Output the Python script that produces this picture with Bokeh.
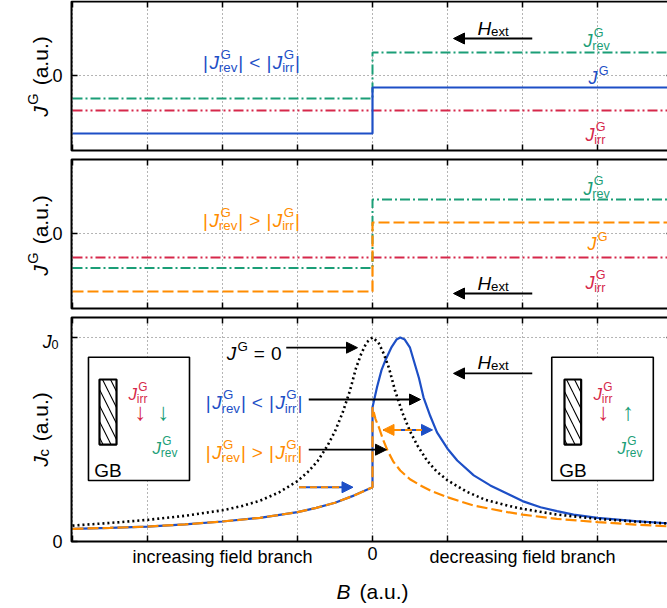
from math import pi
from bokeh.plotting import figure
from bokeh.layouts import column
from bokeh.models import ColumnDataSource, Range1d, Label, Arrow, NormalHead, Grid
from bokeh.embed import file_html
from bokeh.resources import INLINE

# ---------------- data ----------------
B_TICKS = [-4, -3, -2, -1, 0, 1, 2, 3, 4]
B_TICK_LABELS = {-2: "increasing field branch", 0: "0", 2: "decreasing field branch"}
JG_TICKS = [0]
JC_TICKS = [0, 1]

# step functions of panels (a) and (b)
B_STEP = [-4.0, 0.0, 0.0, 4.2]
JIRR_A = [-1.40, -1.40, -1.40, -1.40]
JREV_A = [-0.92, -0.92, 0.92, 0.92]
JG_A = [-2.32, -2.32, -0.48, -0.48]
JIRR_B = [-0.96, -0.96, -0.96, -0.96]
JREV_B = [-1.38, -1.38, 1.36, 1.36]
JG_B = [-2.32, -2.32, 0.44, 0.44]

# panel (c): critical current density curves
B_ZERO = [-4.0, -3.5, -3.0, -2.5, -2.0, -1.75, -1.5, -1.25, -1.0, -0.85, -0.73, -0.6,
          -0.5, -0.4, -0.3, -0.22, -0.15, -0.08, 0.0, 0.08, 0.15, 0.22, 0.3, 0.4, 0.5,
          0.6, 0.73, 0.85, 1.0, 1.25, 1.5, 1.8, 2.0, 2.46, 3.0, 3.5, 3.95]
JC_ZERO = [0.078, 0.091, 0.106, 0.126, 0.153, 0.173, 0.2, 0.24, 0.296, 0.345, 0.395, 0.47,
           0.54, 0.63, 0.74, 0.85, 0.92, 0.975, 1.0, 0.975, 0.92, 0.85, 0.74, 0.63, 0.54,
           0.47, 0.395, 0.345, 0.3, 0.245, 0.205, 0.176, 0.16, 0.132, 0.111, 0.098, 0.088]

B_LT = [-4.0, -3.5, -3.0, -2.5, -2.0, -1.5, -1.0, -0.75, -0.5, -0.25, 0.0, 0.0, 0.06,
        0.12, 0.17, 0.25, 0.32, 0.37, 0.43, 0.5, 0.55, 0.62, 0.68, 0.77, 0.86, 1.0, 1.13,
        1.35, 1.57, 1.8, 2.0, 2.24, 2.46, 2.68, 3.0, 3.5, 3.95]
JC_LT = [0.062, 0.067, 0.073, 0.084, 0.098, 0.116, 0.144, 0.165, 0.19, 0.225, 0.266, 0.658,
         0.756, 0.84, 0.887, 0.95, 0.99, 1.0, 0.99, 0.95, 0.887, 0.8, 0.707, 0.615, 0.535,
         0.455, 0.397, 0.324, 0.275, 0.234, 0.198, 0.168, 0.149, 0.132, 0.116, 0.1, 0.089]

B_GT = [-4.0, -3.5, -3.0, -2.5, -2.0, -1.5, -1.0, -0.75, -0.5, -0.25, 0.0, 0.0, 0.04,
        0.085, 0.14, 0.2, 0.28, 0.37, 0.5, 0.64, 0.8, 1.0, 1.35, 1.8, 2.0, 2.46, 3.0,
        3.5, 3.95]
JC_GT = [0.062, 0.067, 0.073, 0.084, 0.098, 0.116, 0.144, 0.165, 0.19, 0.225, 0.266, 0.658,
         0.6, 0.56, 0.5, 0.446, 0.39, 0.348, 0.305, 0.275, 0.245, 0.217, 0.176, 0.144,
         0.132, 0.111, 0.095, 0.083, 0.074]

# ---------------- style ----------------
FONT = "Liberation Sans"
BLUE = "#1d4fc6"
GREEN = "#1b9e77"
RED = "#d6284b"
ORANGE = "#ff8c00"
GRID = "#6a6a6a"
X_VIEW = (-4.96, 3.9333)    # whole canvas width (frame starts at -4.013)
PANEL_L, PANEL_R = -4.013, 4.0

WID = {' ': 0.278, '|': 0.26, '<': 0.584, '>': 0.584, '=': 0.584, '(': 0.333, ')': 0.333,
       '.': 0.278, '0': 0.556, 'a': 0.556, 'b': 0.556, 'c': 0.5, 'e': 0.556, 'i': 0.222,
       'r': 0.333, 't': 0.278, 'u': 0.556, 'v': 0.5, 'x': 0.5, 'B': 0.667, 'G': 0.778,
       'H': 0.722, 'J': 0.5}


def tw(s, size):
    return sum(WID.get(c, 0.556) for c in s) * size


def rich(p, x, y, runs, color, size=18, align="left", angle=0.0):
    small = size * 0.7
    items = []
    pos = 0.0
    for r in runs:
        k = r[0]
        if k == "g":
            pos += r[1]
            continue
        if k in ("n", "i"):
            items.append((r[1], "italic" if k == "i" else "normal", size, pos, 0.0))
            pos += tw(r[1], size)
        else:
            sup, sub = r[1], r[2]
            both = bool(sup and sub)
            w = 0.0
            if sup:
                items.append((sup, "normal", small, pos + 0.07 * size,
                              (0.44 if both else 0.36) * size))
                w = max(w, 0.07 * size + tw(sup, small))
            if sub:
                items.append((sub, "normal", small, pos - 0.01 * size,
                              -(0.28 if both else 0.17) * size))
                w = max(w, tw(sub, small) - 0.01 * size)
            pos += w
    shift = {"left": 0.0, "center": -pos / 2, "right": -pos}[align]
    for text, style, sz, a, perp in items:
        a += shift
        if angle == 0:
            xo, yo = a, perp
        else:
            xo, yo = -perp, a
        p.add_layout(Label(x=x, y=y, x_offset=xo, y_offset=yo, text=text, angle=angle,
                           text_font=FONT, text_font_style=style,
                           text_font_size=f"{sz:.1f}px", text_color=color,
                           text_align="left", text_baseline="alphabetic"))


def plain(p, x, y, text, size=18, color="black", align="center", baseline="alphabetic",
          font=FONT):
    p.add_layout(Label(x=x, y=y, text=text, text_font=font, text_font_size=f"{size}px",
                       text_color=color, text_align=align, text_baseline=baseline))


def make_fig(height, yr, box, yticks):
    p = figure(width=667, height=height, x_range=Range1d(*X_VIEW), y_range=Range1d(*yr),
               output_backend="svg", toolbar_location=None, x_axis_location=None,
               y_axis_location=None, min_border=0)
    p.outline_line_color = None
    for r in list(p.center):
        if isinstance(r, Grid):
            r.visible = False
    bottom, top = box
    n = len(B_TICKS)
    p.segment(x0=B_TICKS, y0=[bottom] * n, x1=B_TICKS, y1=[top] * n,
              line_color=GRID, line_dash="1 3", line_width=1)
    k = len(yticks)
    p.segment(x0=[PANEL_L] * k, y0=yticks, x1=[PANEL_R] * k, y1=yticks,
              line_color=GRID, line_dash="1 3", line_width=1)
    return p


def finish(p, box, yticks):
    bottom, top = box
    n = len(B_TICKS)
    k = len(yticks)
    p.quad(left=PANEL_L, right=PANEL_R, bottom=bottom, top=top, fill_color=None,
           line_color="black", line_width=2)
    tick = dict(length=6, length_units="screen", line_color="black", line_width=1.5)
    p.ray(x=B_TICKS, y=[bottom] * n, angle=pi / 2, **tick)
    p.ray(x=B_TICKS, y=[top] * n, angle=-pi / 2, **tick)
    p.ray(x=[PANEL_L] * k, y=yticks, angle=0, **tick)
    p.ray(x=[PANEL_R] * k, y=yticks, angle=pi, **tick)


def arrow(p, x0, y0, x1, y1, color="black", width=1.8):
    p.add_layout(Arrow(x_start=x0, y_start=y0, x_end=x1, y_end=y1, line_color=color,
                       line_width=width,
                       end=NormalHead(size=11, fill_color=color, line_color=color,
                                      line_width=1)))


DASHDOT = "10 3 2 3"
DASHDOTDOT = "10 3 2 3 2 3"
DASHED = "11 4"

LT_RUNS = [("n", "|"), ("g", 1.5), ("i", "J"), ("ss", "G", "rev"), ("g", 1), ("n", "|"),
           ("g", 6), ("n", "<"), ("g", 6), ("n", "|"), ("g", 1.5), ("i", "J"),
           ("ss", "G", "irr"), ("g", 1), ("n", "|")]
GT_RUNS = [("n", "|"), ("g", 1.5), ("i", "J"), ("ss", "G", "rev"), ("g", 1), ("n", "|"),
           ("g", 6), ("n", ">"), ("g", 6), ("n", "|"), ("g", 1.5), ("i", "J"),
           ("ss", "G", "irr"), ("g", 1), ("n", "|")]
JG_Y_RUNS = [("i", "J"), ("ss", "G", None), ("g", 8), ("n", "(a.u.)")]

# ---------------- panel (a) ----------------
BOX_A = (-3.0, 2.96)
p1 = make_fig(154, (-3.16, 3.0), BOX_A, JG_TICKS)
src_a = ColumnDataSource(dict(b=B_STEP, irr=JIRR_A, rev=JREV_A, jg=JG_A))
p1.line("b", "irr", source=src_a, line_color=RED, line_width=2, line_dash=DASHDOTDOT)
p1.line("b", "rev", source=src_a, line_color=GREEN, line_width=2, line_dash=DASHDOT)
p1.line("b", "jg", source=src_a, line_color=BLUE, line_width=2.2)
finish(p1, BOX_A, JG_TICKS)
rich(p1, -1.613, 0.52, LT_RUNS, BLUE, 19, align="center")
rich(p1, 1.4, 1.88, [("i", "H"), ("ss", None, "ext")], "black", 19)
arrow(p1, 2.13, 1.48, 1.08, 1.48)
rich(p1, 2.813, 1.4, [("i", "J"), ("ss", "G", "rev")], GREEN, 18)
rich(p1, 2.88, -0.08, [("i", "J"), ("ss", "G", None)], BLUE, 18)
rich(p1, 2.84, -2.36, [("i", "J"), ("ss", "G", "irr")], RED, 18)
plain(p1, -4.133, 0, "0", 18, align="right", baseline="middle")
rich(p1, -4.427, -0.04, JG_Y_RUNS, "black", 21, align="center", angle=pi / 2)

# ---------------- panel (b) ----------------
BOX_B = (-3.0, 2.96)
p2 = make_fig(158, (-3.16, 3.16), BOX_B, JG_TICKS)
src_b = ColumnDataSource(dict(b=B_STEP, irr=JIRR_B, rev=JREV_B, jg=JG_B))
p2.line("b", "irr", source=src_b, line_color=RED, line_width=2, line_dash=DASHDOTDOT)
p2.line("b", "rev", source=src_b, line_color=GREEN, line_width=2, line_dash=DASHDOT)
p2.line("b", "jg", source=src_b, line_color=ORANGE, line_width=2.2, line_dash=DASHED)
finish(p2, BOX_B, JG_TICKS)
rich(p2, -1.613, 0.52, GT_RUNS, ORANGE, 19, align="center")
rich(p2, 1.4, -2.0, [("i", "H"), ("ss", None, "ext")], "black", 19)
arrow(p2, 2.13, -2.4, 1.08, -2.4)
rich(p2, 2.813, 1.8, [("i", "J"), ("ss", "G", "rev")], GREEN, 18)
rich(p2, 2.867, -0.4, [("i", "J"), ("ss", "G", None)], ORANGE, 18)
rich(p2, 2.84, -1.96, [("i", "J"), ("ss", "G", "irr")], RED, 18)
plain(p2, -4.133, 0, "0", 18, align="right", baseline="middle")
rich(p2, -4.427, -0.08, JG_Y_RUNS, "black", 21, align="center", angle=pi / 2)

# ---------------- panel (c) ----------------
BOX_C = (0.0, 1.098)
p3 = make_fig(296, (-0.3284, 1.1225), BOX_C, JC_TICKS)
p3.line(B_LT, JC_LT, line_color=BLUE, line_width=2.2)
p3.line(B_GT, JC_GT, line_color=ORANGE, line_width=2.2, line_dash=DASHED)
p3.line(B_ZERO, JC_ZERO, line_color="black", line_width=2.6, line_dash="2 3")

# insets (white boxes with a hatched grain boundary)
INSETS = [
    dict(box=(-3.787, -2.44), gb=(-3.64, -3.413), jirr=-3.253, a1=-3.093, jrev=-2.933,
         a2=-2.787, gbx=-3.527, arrow2="\u2193"),
    dict(box=(2.39, 3.744), gb=(2.56, 2.782), jirr=2.947, a1=3.08, jrev=3.267,
         a2=3.41, gbx=2.673, arrow2="\u2191"),
]
for ins in INSETS:
    p3.quad(left=ins["box"][0], right=ins["box"][1], bottom=0.299, top=0.903,
            fill_color="white", line_color="black", line_width=1.6)
    p3.quad(left=ins["gb"][0], right=ins["gb"][1], bottom=0.475, top=0.794,
            fill_color="white", line_color="black", line_width=2.2, hatch_pattern="\\",
            hatch_color="black", hatch_scale=16, hatch_weight=1.1)
finish(p3, BOX_C, JC_TICKS)

for ins in INSETS:
    rich(p3, ins["jirr"], 0.72, [("i", "J"), ("ss", "G", "irr")], RED, 17)
    plain(p3, ins["a1"], 0.637, "\u2193", 24, RED, baseline="middle")
    plain(p3, ins["a2"], 0.637, ins["arrow2"], 24, GREEN, baseline="middle")
    rich(p3, ins["jrev"], 0.456, [("i", "J"), ("ss", "G", "rev")], GREEN, 17)
    plain(p3, ins["gbx"], 0.348, "GB", 19)

rich(p3, -1.213, 0.92, [("i", "J"), ("ss", "G", None), ("g", 6), ("n", "="), ("g", 6),
                        ("n", "0")], "black", 19, align="right")
arrow(p3, -1.15, 0.95, -0.2, 0.95)
rich(p3, -0.933, 0.68, LT_RUNS, BLUE, 19, align="right")
arrow(p3, -0.85, 0.696, 0.64, 0.696)
rich(p3, -0.933, 0.436, GT_RUNS, ORANGE, 19, align="right")
arrow(p3, -0.85, 0.45, 0.187, 0.45)
rich(p3, 1.4, 0.877, [("i", "H"), ("ss", None, "ext")], "black", 19)
arrow(p3, 2.13, 0.824, 1.08, 0.824)

# dashed orange/blue arrows
arrow(p3, -0.98, 0.266, -0.26, 0.266, BLUE, 2)
p3.add_layout(Arrow(x_start=-0.98, y_start=0.266, x_end=-0.4, y_end=0.266, end=None,
                    line_color=ORANGE, line_width=2, line_dash="7 4"))
arrow(p3, 0.14, 0.547, 0.80, 0.547, BLUE, 2)
p3.add_layout(Arrow(x_start=0.14, y_start=0.547, x_end=0.66, y_end=0.547, end=None,
                    start=NormalHead(size=11, fill_color=ORANGE, line_color=ORANGE,
                                     line_width=1),
                    line_color=ORANGE, line_width=2, line_dash="7 4"))

# tick labels and axis labels
plain(p3, -4.133, 0, "0", 18, align="right", baseline="middle")
rich(p3, -4.187, 0.98, [("i", "J"), ("ss", None, "0")], "black", 18, align="right")
for b, txt in B_TICK_LABELS.items():
    plain(p3, b, -0.0245, txt, 18, baseline="top")
rich(p3, -4.427, 0.549, [("i", "J"), ("ss", None, "c"), ("g", 8), ("n", "(a.u.)")],
     "black", 21, align="center", angle=pi / 2)
rich(p3, 0.0, -0.245, [("i", "B"), ("g", 9), ("n", "(a.u.)")], "black", 21,
     align="center")

layout = column(p1, p2, p3)
open("out.html", "w").write(file_html(layout, INLINE))
